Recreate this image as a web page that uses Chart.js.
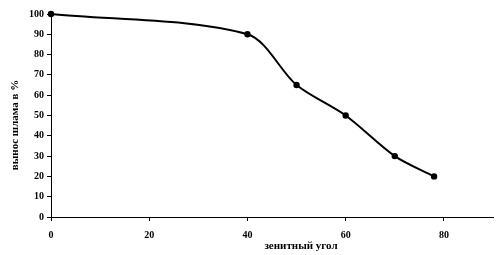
<!DOCTYPE html>
<html>
<head>
<meta charset="utf-8">
<script src="https://cdn.jsdelivr.net/npm/chart.js@4"></script>
<style>
  html, body { margin: 0; padding: 0; background: #fff; }
  #wrap { width: 500px; height: 255px; }
</style>
</head>
<body>
<div id="wrap"><canvas id="myChart" width="500" height="255"></canvas></div>
<script>
const angles = [0, 40, 50, 60, 70, 78];
const removal = [100, 90, 65, 50, 30, 20];
const xTicks = [0, 20, 40, 60, 80];
const xTitle = "зенитный угол";
const yTitle = "вынос шлама в %";

const tickFont = { family: "Liberation Serif", size: 10, weight: "bold" };

// axis titles drawn by hand so they sit where the original has them
const titlesPlugin = {
  id: "titles",
  afterDraw(chart) {
    const ctx = chart.ctx;
    ctx.save();
    ctx.fillStyle = "#000";
    ctx.font = "bold 11px 'Liberation Serif'";
    ctx.textAlign = "center";
    ctx.textBaseline = "middle";
    ctx.fillText(xTitle, 301, 246);
    ctx.translate(15, 125);
    ctx.rotate(-Math.PI / 2);
    ctx.fillText(yTitle, 0, 0);
    ctx.restore();
  }
};

const ctx = document.getElementById("myChart").getContext("2d");
new Chart(ctx, {
  type: "scatter",
  data: {
    datasets: [{
      data: angles.map((a, i) => ({ x: a, y: removal[i] })),
      showLine: true,
      borderColor: "#000",
      backgroundColor: "#000",
      borderWidth: 2,
      pointRadius: 2.2,
      pointHoverRadius: 2.2,
      tension: 0.3,
      clip: false
    }]
  },
  options: {
    responsive: false,
    animation: false,
    layout: { padding: { top: 14, right: 7, left: 0, bottom: 0 } },
    plugins: { legend: { display: false }, tooltip: { enabled: false } },
    scales: {
      x: {
        type: "linear",
        min: 0,
        max: 90,
        afterBuildTicks: s => { s.ticks = xTicks.map(v => ({ value: v })); },
        afterFit: s => { s.height = 38; },
        grid: { drawOnChartArea: false, drawTicks: true, tickLength: 4, color: "#000" },
        border: { display: true, color: "#000", width: 1 },
        ticks: { color: "#000", font: tickFont, padding: 8, maxRotation: 0 }
      },
      y: {
        min: 0,
        max: 100,
        afterFit: s => { s.width = 51; },
        grid: { drawOnChartArea: false, drawTicks: true, tickLength: 4, color: "#000" },
        border: { display: true, color: "#000", width: 1 },
        ticks: { color: "#000", font: tickFont, stepSize: 10, padding: 3 }
      }
    }
  },
  plugins: [titlesPlugin]
});
</script>
</body>
</html>
